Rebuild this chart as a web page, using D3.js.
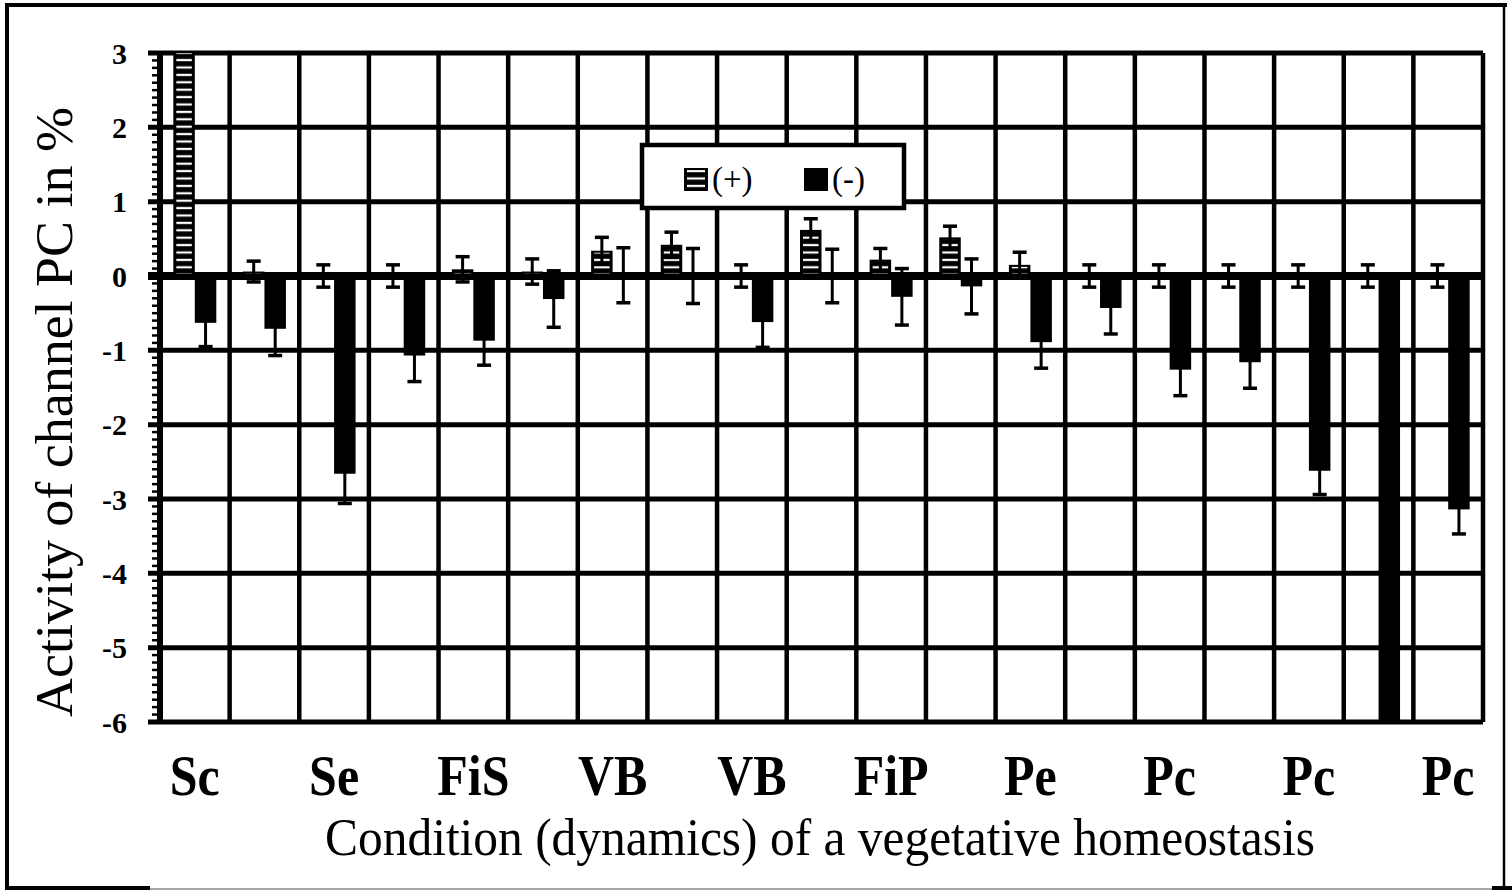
<!DOCTYPE html>
<html>
<head>
<meta charset="utf-8">
<script src="https://cdn.jsdelivr.net/npm/d3@7"></script>
<style>
  html, body { margin: 0; padding: 0; background: #fff; }
  svg { display: block; }
</style>
</head>
<body>
<svg id="chart" width="1512" height="891"></svg>
<script>
// category tick labels (only every other category is labelled)
const tickLabels = ["Sc", "", "Se", "", "FiS", "", "VB", "", "VB", "", "FiP", "", "Pe", "", "Pc", "", "Pc", "", "Pc"];

// (+) series and its error
const plusValues = [3.6, 0.06, 0, 0, 0.09, 0.06, 0.34, 0.42, 0, 0.62, 0.22, 0.52, 0.15, 0, 0, 0, 0, 0, 0];
const plusErr = [0.3, 0.14, 0.15, 0.15, 0.17, 0.17, 0.18, 0.17, 0.15, 0.15, 0.15, 0.15, 0.17, 0.15, 0.15, 0.15, 0.15, 0.15, 0.15];

// (-) series and its error
const minusValues = [-0.63, -0.71, -2.66, -1.07, -0.87, -0.31, 0.01, 0, -0.62, 0, -0.28, -0.14, -0.89, -0.43, -1.26, -1.16, -2.62, -7, -3.14];
const minusErr = [0.32, 0.36, 0.4, 0.35, 0.33, 0.38, 0.37, 0.37, 0.34, 0.36, 0.38, 0.37, 0.35, 0.35, 0.35, 0.35, 0.32, 0.3, 0.33];

const yTicks = [3, 2, 1, 0, -1, -2, -3, -4, -5, -6];
const legendLabels = ["(+)", "(-)"];

const plot = { left: 160, right: 1483, top: 53, bottom: 722 };
const serif = "'Liberation Serif', 'Times New Roman', serif";

const svg = d3.select("#chart");

const x = d3.scaleBand()
  .domain(d3.range(tickLabels.length))
  .range([plot.left, plot.right])
  .padding(0);

const x1 = d3.scaleBand()
  .domain(["plus", "minus"])
  .range([0, x.bandwidth()])
  .paddingInner(0)
  .paddingOuter(0.62);

const y = d3.scaleLinear().domain([-6, 3]).range([plot.bottom, plot.top]);

const defs = svg.append("defs");
defs.append("clipPath").attr("id", "plotClip")
  .append("rect")
  .attr("x", plot.left).attr("y", plot.top)
  .attr("width", plot.right - plot.left).attr("height", plot.bottom - plot.top);

// white horizontal slots for the (+) bars
const pat = defs.append("pattern")
  .attr("id", "stripes")
  .attr("patternUnits", "userSpaceOnUse")
  .attr("x", 0).attr("y", y(0) - 5)
  .attr("width", 8).attr("height", 7.4);
pat.append("rect").attr("width", 8).attr("height", 7.4).attr("fill", "#000");
pat.append("rect").attr("y", 2.6).attr("width", 8).attr("height", 2.2).attr("fill", "#fff");

// ---- outer frame (cropped figure) ----
const frame = svg.append("g").attr("stroke", "#000").attr("fill", "none");
frame.append("line").attr("x1", 5).attr("x2", 1507).attr("y1", 5).attr("y2", 5).attr("stroke-width", 4);
frame.append("line").attr("x1", 7).attr("x2", 7).attr("y1", 5).attr("y2", 889).attr("stroke-width", 4);
frame.append("line").attr("x1", 5).attr("x2", 1510).attr("y1", 889).attr("y2", 889).attr("stroke-width", 1.5).attr("stroke", "#888");
frame.append("line").attr("x1", 5).attr("x2", 150).attr("y1", 888).attr("y2", 888).attr("stroke-width", 4);
frame.append("line").attr("x1", 1504).attr("x2", 1504).attr("y1", 5).attr("y2", 888).attr("stroke-width", 2.5);
frame.append("line").attr("x1", 1492).attr("x2", 1512).attr("y1", 888).attr("y2", 888).attr("stroke-width", 4);

// ---- grid ----
const grid = svg.append("g").attr("stroke", "#000");
grid.selectAll(".hgrid")
  .data(yTicks)
  .join("line")
  .attr("x1", plot.left - 12).attr("x2", plot.right)
  .attr("y1", d => y(d)).attr("y2", d => y(d))
  .attr("stroke-width", d => d === 0 ? 8 : 5);

grid.selectAll(".vgrid")
  .data(d3.range(1, tickLabels.length + 1))
  .join("line")
  .attr("x1", d => d === tickLabels.length ? plot.right : x(d))
  .attr("x2", d => d === tickLabels.length ? plot.right : x(d))
  .attr("y1", plot.top).attr("y2", plot.bottom)
  .attr("stroke-width", 4.5);

// ---- bars ----
const bars = svg.append("g").attr("clip-path", "url(#plotClip)");
const bw = x1.bandwidth();

const plusG = bars.selectAll(".plus")
  .data(plusValues)
  .join("g");
plusG.append("rect")
  .attr("x", (d, i) => x(i) + x1("plus"))
  .attr("y", d => y(Math.max(0, d)))
  .attr("width", bw)
  .attr("height", d => Math.abs(y(d) - y(0)))
  .attr("fill", "#000");
plusG.append("rect")
  .attr("x", (d, i) => x(i) + x1("plus") + 3)
  .attr("y", d => y(Math.max(0, d)) + 2)
  .attr("width", bw - 6)
  .attr("height", d => Math.max(0, Math.abs(y(d) - y(0)) - 4))
  .attr("fill", "url(#stripes)");

bars.selectAll(".minus")
  .data(minusValues)
  .join("rect")
  .attr("x", (d, i) => x(i) + x1("minus"))
  .attr("y", d => y(Math.max(0, d)))
  .attr("width", bw)
  .attr("height", d => Math.abs(y(d) - y(0)))
  .attr("fill", "#000");

// ---- error bars ----
function errorBars(values, errs, key) {
  const g = bars.append("g").attr("stroke", "#000");
  const cx = i => x(i) + x1(key) + bw / 2;
  values.forEach((v, i) => {
    const e = errs[i];
    g.append("line")
      .attr("x1", cx(i)).attr("x2", cx(i))
      .attr("y1", y(v + e)).attr("y2", y(v - e))
      .attr("stroke-width", 3);
    [v + e, v - e].forEach(t => {
      g.append("line")
        .attr("x1", cx(i) - 7).attr("x2", cx(i) + 7)
        .attr("y1", y(t)).attr("y2", y(t))
        .attr("stroke-width", 3.5);
    });
  });
}
errorBars(plusValues, plusErr, "plus");
errorBars(minusValues, minusErr, "minus");

// ---- y axis ----
const yAxis = svg.append("g");
yAxis.append("line")
  .attr("x1", plot.left).attr("x2", plot.left)
  .attr("y1", plot.top - 2).attr("y2", plot.bottom + 2)
  .attr("stroke", "#000").attr("stroke-width", 6);
yAxis.selectAll(".minor")
  .data(d3.range(-60, 31).map(d => d / 10))
  .join("line")
  .attr("x1", plot.left - 8).attr("x2", plot.left)
  .attr("y1", d => y(d)).attr("y2", d => y(d))
  .attr("stroke", "#000").attr("stroke-width", 2.5);
yAxis.selectAll("text")
  .data(yTicks)
  .join("text")
  .attr("x", 127)
  .attr("y", d => y(d))
  .attr("dy", "0.35em")
  .attr("text-anchor", "end")
  .attr("font-family", serif)
  .attr("font-weight", "bold")
  .attr("font-size", 30)
  .text(d => d);

// ---- category labels ----
svg.append("g").selectAll("text")
  .data(tickLabels)
  .join("text")
  .attr("transform", (d, i) => `translate(${x(i) + x.bandwidth() / 2},795) scale(1,1.12)`)
  .attr("text-anchor", "middle")
  .attr("font-family", serif)
  .attr("font-weight", "bold")
  .attr("font-size", 50)
  .text(d => d);

// ---- axis titles ----
svg.append("text")
  .attr("x", 820).attr("y", 855)
  .attr("text-anchor", "middle")
  .attr("font-family", serif)
  .attr("font-size", 52)
  .attr("textLength", 990)
  .attr("lengthAdjust", "spacingAndGlyphs")
  .text("Condition (dynamics) of a vegetative homeostasis");

svg.append("text")
  .attr("transform", "translate(72,412) rotate(-90)")
  .attr("text-anchor", "middle")
  .attr("font-family", serif)
  .attr("font-size", 52)
  .attr("textLength", 610)
  .attr("lengthAdjust", "spacingAndGlyphs")
  .text("Activity of channel PC in %");

// ---- legend ----
const legend = svg.append("g");
legend.append("rect")
  .attr("x", 642).attr("y", 145)
  .attr("width", 262).attr("height", 63)
  .attr("fill", "#fff").attr("stroke", "#000").attr("stroke-width", 4.5);
legend.append("rect")
  .attr("x", 684).attr("y", 168).attr("width", 24).attr("height", 23).attr("fill", "#000");
legend.append("rect")
  .attr("x", 687).attr("y", 170).attr("width", 18).attr("height", 19).attr("fill", "url(#stripes)");
legend.append("rect")
  .attr("x", 804).attr("y", 168).attr("width", 24).attr("height", 23).attr("fill", "#000");
legend.selectAll("text")
  .data(legendLabels)
  .join("text")
  .attr("x", (d, i) => i === 0 ? 712 : 832)
  .attr("y", 190)
  .attr("font-family", serif)
  .attr("font-size", 33)
  .text(d => d);
</script>
</body>
</html>
